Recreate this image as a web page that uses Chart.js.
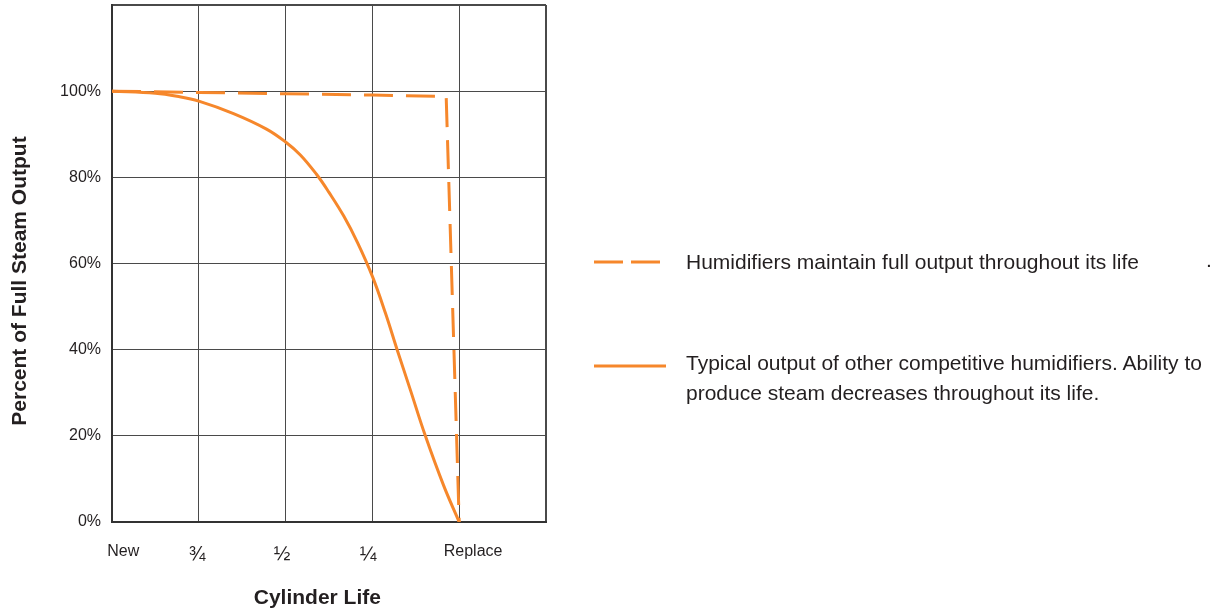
<!DOCTYPE html>
<html>
<head>
<meta charset="utf-8">
<script src="https://cdn.jsdelivr.net/npm/chart.js@4.4.1/dist/chart.umd.min.js"></script>
<style>
  body { margin: 0; background: #fff; font-family: "Liberation Sans", Arial, sans-serif; color: #231f20; }
  #wrap { position: relative; width: 1220px; height: 614px; overflow: hidden; }
  #chart { position: absolute; left: 0; top: 0; }
  .key { position: absolute; left: 594px; width: 620px; }
  .key svg { position: absolute; left: 0; }
  .key .txt { position: absolute; left: 92px; font-size: 21px; line-height: 30px; white-space: nowrap; }
  #dot { position: absolute; left: 1206px; top: 248px; font-size: 21px; }
</style>
</head>
<body>
<div id="wrap">
  <canvas id="chart" width="1220" height="614"></canvas>
  <div id="legend"></div>
  <div id="dot">.</div>
</div>
<script>
// remaining cylinder life (0 = new, 4 = replace)
const keepX = [0, 1, 2, 3, 3.85, 4];
const keepY = [100, 99.7, 99.4, 99.1, 98.8, 0];

const otherX = [0, 0.5, 0.75, 1, 1.4, 1.78, 2, 2.17, 2.36, 2.5, 2.67, 2.83, 3, 3.15, 3.285, 3.44, 3.61, 3.82, 4];
const otherY = [100, 99.5, 98.8, 97.7, 94.8, 91.2, 88.2, 85.2, 80.6, 76.5, 71, 64.8, 57, 48.5, 40, 30.5, 20, 8.5, 0];

const lifeLabels = ["New", "¾", "½", "¼", "Replace"];
const lifeSpots = [0.13, 0.98, 1.96, 2.95, 4.16];
const yTicks = [0, 20, 40, 60, 80, 100, 120];

const keepLabel = ["Humidifiers maintain full output throughout its life"];
const otherLabel = ["Typical output of other competitive humidifiers. Ability to",
                    "produce steam decreases throughout its life."];

const orange = "#f6872b";
const pairs = (xs, ys) => xs.map((x, i) => ({ x: x, y: ys[i] }));

// legend on the right, html text
const legend = document.getElementById("legend");
legend.innerHTML = `
  <div class="key" style="top:247px">
    <svg width="80" height="30"><line x1="0" y1="15" x2="68" y2="15" stroke="${orange}" stroke-width="3" stroke-dasharray="29 8"/></svg>
    <div class="txt" style="top:0">${keepLabel.join("<br>")}</div>
  </div>
  <div class="key" style="top:348px">
    <svg width="80" height="30"><line x1="0" y1="18" x2="72" y2="18" stroke="${orange}" stroke-width="3"/></svg>
    <div class="txt" style="top:0">${otherLabel.join("<br>")}</div>
  </div>
`;

const edgeW = (ctx, edge) => (ctx.tick && ctx.tick.value === edge ? 2 : 1);

new Chart(document.getElementById("chart"), {
  type: "scatter",
  data: {
    datasets: [
      {
        label: keepLabel.join(" "),
        data: pairs(keepX, keepY),
        showLine: true,
        borderColor: orange,
        borderWidth: 3,
        borderDash: [29, 13],
        pointRadius: 0,
        tension: 0
      },
      {
        label: otherLabel.join(" "),
        data: pairs(otherX, otherY),
        showLine: true,
        borderColor: orange,
        borderWidth: 3,
        pointRadius: 0,
        tension: 0.4
      }
    ]
  },
  options: {
    responsive: false,
    animation: false,
    layout: { padding: { top: 5, right: 674, bottom: 0, left: 0 } },
    plugins: { legend: { display: false }, tooltip: { enabled: false } },
    scales: {
      x: {
        type: "linear",
        min: 0, max: 5,
        ticks: { display: false, stepSize: 1 },
        grid: { color: "#4a4a4a", lineWidth: ctx => edgeW(ctx, 5), drawTicks: false },
        border: { color: "#333", width: 2 },
        afterFit: s => { s.height = 0; s.paddingLeft = 0; s.paddingRight = 0; }
      },
      xl: {
        type: "linear",
        position: "bottom",
        min: 0, max: 5,
        afterBuildTicks: s => { s.ticks = lifeSpots.map(v => ({ value: v })); },
        ticks: {
          autoSkip: false,
          maxRotation: 0,
          padding: 20,
          color: "#231f20",
          font: ctx => ({ family: "Liberation Sans", size: (ctx.index > 0 && ctx.index < 4) ? 20 : 16 }),
          callback: (v, i) => lifeLabels[i]
        },
        grid: { display: false, drawTicks: false },
        border: { display: false },
        title: {
          display: true,
          text: "Cylinder Life    ",
          color: "#231f20",
          font: { family: "Liberation Sans", size: 21, weight: "bold" },
          padding: { top: 0, bottom: 3 }
        },
        afterFit: s => { s.height = 92; s.paddingLeft = 0; s.paddingRight = 0; }
      },
      y: {
        min: 0, max: 120,
        afterBuildTicks: s => { s.ticks = yTicks.map(v => ({ value: v })); },
        ticks: {
          padding: 11,
          color: "#231f20",
          font: { family: "Liberation Sans", size: 16 },
          callback: v => (v <= 100 ? v + "%" : "")
        },
        grid: { color: "#4a4a4a", lineWidth: ctx => edgeW(ctx, 120), drawTicks: false },
        border: { color: "#333", width: 2 },
        title: {
          display: true,
          text: "Percent of Full Steam Output      ",
          color: "#231f20",
          font: { family: "Liberation Sans", size: 21, weight: "bold" },
          padding: { top: 8, bottom: 0 }
        },
        afterFit: s => { s.width = 112; s.paddingTop = 0; s.paddingBottom = 0; }
      }
    }
  }
});
</script>
</body>
</html>
